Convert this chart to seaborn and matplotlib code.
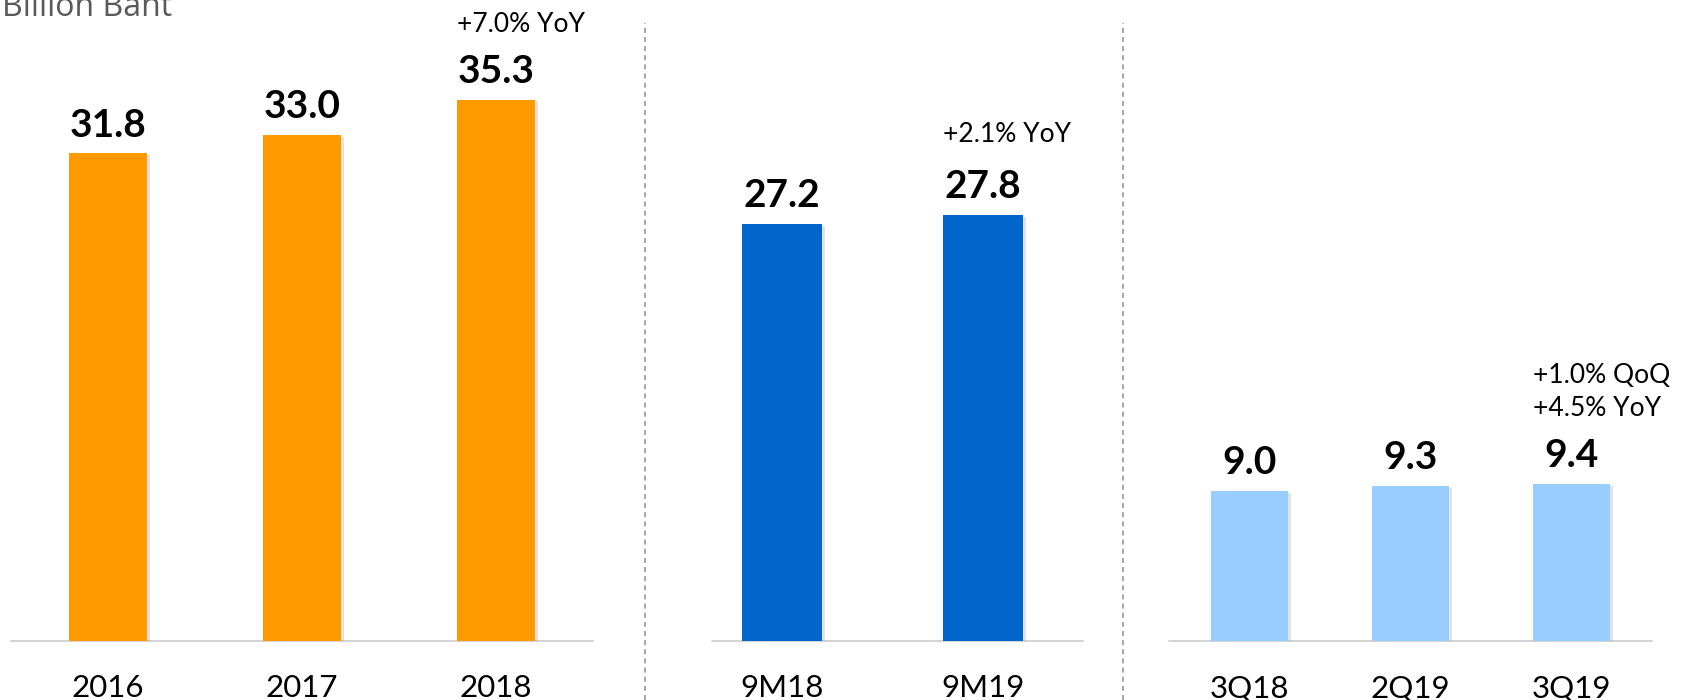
import matplotlib
matplotlib.use("Agg")
import matplotlib.pyplot as plt
import matplotlib.patheffects as pe
import seaborn as sns

# ---- data ----
years = ["2016", "2017", "2018"]
annual_vals = [31.8, 33.0, 35.3]
ytd_periods = ["9M18", "9M19"]
ytd_vals = [27.2, 27.8]
quarters = ["3Q18", "2Q19", "3Q19"]
quarter_vals = [9.0, 9.3, 9.4]
annual_notes = ["+7.0% YoY"]          # on last bar
ytd_notes = ["+2.1% YoY"]             # on last bar
quarter_notes = ["+1.0% QoQ", "+4.5% YoY"]  # on last bar
unit_label = "Billion Baht"

sns.set_theme(style="white")
plt.rcParams["font.family"] = ["Lato", "DejaVu Sans"]

W, H = 1685, 700
fig = plt.figure(figsize=(W / 100, H / 100), dpi=100)

base_px = 641  # baseline from top


def make_ax(left, right):
    return fig.add_axes([left / W, 1 - base_px / H, (right - left) / W, base_px / H])


shadow = [pe.SimplePatchShadow(offset=(2.0, -1.5), shadow_rgbFace="#8c8c8c", alpha=0.25), pe.Normal()]


def panel(ax, cats, vals, color, width, xlim, ylim, notes, note_offsets):
    sns.barplot(x=cats, y=vals, color=color, saturation=1, width=width, ax=ax, zorder=3)
    for p in ax.patches:
        p.set_path_effects(shadow)
        p.set_edgecolor("none")
    ax.set_xlim(*xlim)
    ax.set_ylim(*ylim)
    for s in ["top", "left", "right"]:
        ax.spines[s].set_visible(False)
    ax.spines["bottom"].set_color("#c8c8c8")
    ax.spines["bottom"].set_linewidth(1.1)
    ax.set_yticks([])
    ax.set_ylabel("")
    ax.set_xlabel("")
    ax.tick_params(axis="x", length=0, pad=24, labelsize=22.5, labelcolor="black")
    ax.set_facecolor("none")
    for i, v in enumerate(vals):
        ax.annotate(f"{v:.1f}", xy=(i, v), xytext=(0, 12), textcoords="offset points",
                    ha="center", va="baseline", fontsize=28, fontweight="bold",
                    color="black", annotation_clip=False)
    last = len(vals) - 1
    for txt, off in zip(notes, note_offsets):
        ax.annotate(txt, xy=(last - width / 2, vals[last]), xytext=(0, off),
                    textcoords="offset points", ha="left", va="baseline",
                    fontsize=19, color="black", annotation_clip=False)


ax1 = make_ax(11, 593)
panel(ax1, years, annual_vals, "#ff9900", 0.40, (-0.5, 2.5), (0, 41.8), annual_notes, [49])

ax2 = make_ax(712, 1083)
panel(ax2, ytd_periods, ytd_vals, "#0066cc", 0.40, (-0.348, 1.498), (0, 41.8), ytd_notes, [52])

ax3 = make_ax(1169, 1652)
panel(ax3, quarters, quarter_vals, "#99ccff", 0.48, (-0.5, 2.5), (0, 38.4), quarter_notes, [73, 49])

# dashed separators
for xpx in (645, 1123):
    fig.add_artist(plt.Line2D([xpx / W, xpx / W], [0, 1 - 23 / H], transform=fig.transFigure,
                              color="#a6a6a6", linewidth=1.4, linestyle=(0, (2.6, 2.1))))

fig.text(2 / W, 1 - 16 / H, unit_label, ha="left", va="baseline", fontsize=23,
         color="#595959", family=["Open Sans", "DejaVu Sans"])

fig.savefig("out.png", dpi=100)
